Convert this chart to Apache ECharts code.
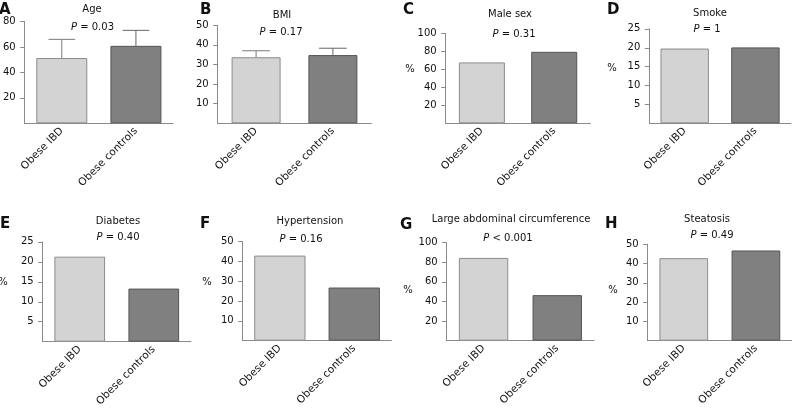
<!DOCTYPE html>
<html><head><meta charset="utf-8">
<script src="https://cdn.jsdelivr.net/npm/echarts@6/dist/echarts.min.js"></script>
<style>html,body{margin:0;padding:0;background:#fff}#c{width:792px;height:410px}</style>
</head><body><div id="c"></div>
<script>
// ---- data ----
const categories = ['Obese IBD', 'Obese controls'];
const panelLetters = ['A', 'B', 'C', 'D', 'E', 'F', 'G', 'H'];
const panelTitles = ['Age', 'BMI', 'Male sex', 'Smoke', 'Diabetes', 'Hypertension', 'Large abdominal circumference', 'Steatosis'];
const pValues = ['= 0.03', '= 0.17', '= 0.31', '= 1', '= 0.40', '= 0.16', '< 0.001', '= 0.49'];
const ageMean = [51.4, 61.0];
const ageSD = [14.7, 12.2];
const bmiMean = [33.7, 34.8];
const bmiSD = [3.3, 3.5];
const maleSex = [67.8, 79.6];
const smoke = [19.8, 20.1];
const diabetes = [21.3, 13.3];
const hypertension = [42.9, 26.8];
const largeAbdominal = [84.3, 46.4];
const steatosis = [42.8, 46.8];
const yMax = [80, 50, 100, 25, 25, 50, 100, 50];
const yInterval = [20, 10, 20, 5, 5, 10, 20, 10];
const percentAxis = [false, false, true, true, true, true, true, true];

const panelValues = [ageMean, bmiMean, maleSex, smoke, diabetes, hypertension, largeAbdominal, steatosis];
const panelSD = [ageSD, bmiSD, null, null, null, null, null, null];

// ---- layout (pixels) ----
const gridLeft = [21.7, 217.7, 445.7, 649.3, 42.7, 242.7, 446.7, 647.7];
const gridTop = [21.7, 25.3, 33.5, 28.9, 241.9, 241.5, 242.5, 244.3];
const gridWidth = [151.3, 153.6, 144.7, 141.5, 148.1, 148.7, 147.4, 150.1];
const gridHeight = [101.6, 98, 89.8, 94.4, 99.8, 99.2, 98.2, 96.4];
const barWidthPx = [51, 49, 46, 48.4, 50.7, 51.3, 49.4, 48.7];
const letterPos = [[-1, 10], [200, 10], [403, 10], [607, 10], [0, 224], [200, 224], [400, 225], [605, 224]];
const titlePos = [[92, 9.5], [282, 15], [510, 14.7], [710, 13.8], [118, 221], [310, 221], [511, 219.5], [707, 219]];
const pPos = [[92.5, 27.8], [281, 32], [514, 34], [707, 29], [118, 237.5], [301, 239], [508, 238.3], [712, 235.8]];
const pctPos = [null, null, [410, 69], [612, 68], [3, 282], [207, 282], [408, 290], [613, 290]];

const FONT = 'DejaVu Sans';
const TXT = '#111';
const AX = '#8a8a8a';
const lightFill = '#d3d3d3', lightBorder = '#8c8c8c';
const darkFill = '#808080', darkBorder = '#555555';

const grids = [], xAxes = [], yAxes = [], series = [], graphics = [];
for (let i = 0; i < 8; i++) {
  grids.push({ left: gridLeft[i], top: gridTop[i], width: gridWidth[i], height: gridHeight[i], containLabel: false });
  xAxes.push({
    type: 'category', gridIndex: i, data: categories,
    axisLine: { lineStyle: { color: AX, width: 1 } },
    axisTick: { alignWithLabel: true, length: 4, lineStyle: { color: AX } },
    axisLabel: { rotate: 45, margin: 6, fontFamily: FONT, fontSize: 10.5, color: TXT, interval: 0 }
  });
  yAxes.push({
    type: 'value', gridIndex: i, min: 0, max: yMax[i], interval: yInterval[i],
    axisLine: { show: true, lineStyle: { color: AX, width: 1 } },
    axisTick: { show: true, length: 4.5, lineStyle: { color: AX } },
    axisLabel: { showMinLabel: false, margin: 9, fontFamily: FONT, fontSize: 10, color: TXT },
    splitLine: { show: false }
  });
  series.push({
    type: 'bar', xAxisIndex: i, yAxisIndex: i, barWidth: barWidthPx[i], silent: true,
    data: panelValues[i].map((v, k) => ({
      value: v,
      itemStyle: { color: k === 0 ? lightFill : darkFill, borderColor: k === 0 ? lightBorder : darkBorder, borderWidth: 1 }
    }))
  });
  if (panelSD[i]) {
    series.push({
      type: 'custom', xAxisIndex: i, yAxisIndex: i, silent: true, z: 5,
      dimensions: ['x', 'mean', 'sd'], encode: { x: 0, y: 1 },
      data: panelValues[i].map((v, k) => [k, v, panelSD[i][k]]),
      renderItem: function (params, api) {
        const x = api.value(0), m = api.value(1), s = api.value(2);
        const base = api.coord([x, m]);
        const top = api.coord([x, m + s]);
        const half = api.size([1, 0])[0] * 0.18;
        const col = x === 0 ? '#7a7a7a' : '#666';
        return { type: 'group', children: [
          { type: 'line', shape: { x1: base[0], y1: base[1], x2: top[0], y2: top[1] }, style: { stroke: col, lineWidth: 1 } },
          { type: 'line', shape: { x1: top[0] - half, y1: top[1], x2: top[0] + half, y2: top[1] }, style: { stroke: col, lineWidth: 1 } }
        ] };
      }
    });
  }
  graphics.push({ type: 'text', x: letterPos[i][0], y: letterPos[i][1],
    style: { text: panelLetters[i], fontFamily: FONT, fontSize: 15, fontWeight: 'bold', fill: '#111', align: 'left', verticalAlign: 'middle', textAlign: 'left', textVerticalAlign: 'middle' } });
  graphics.push({ type: 'text', x: titlePos[i][0], y: titlePos[i][1],
    style: { text: panelTitles[i], fontFamily: FONT, fontSize: 10, fill: TXT, align: 'center', verticalAlign: 'middle', textAlign: 'center', textVerticalAlign: 'middle' } });
  graphics.push({ type: 'text', x: pPos[i][0], y: pPos[i][1],
    style: { text: '{i|P} ' + pValues[i], fontFamily: FONT, fontSize: 10, fill: TXT, align: 'center', verticalAlign: 'middle', textAlign: 'center', textVerticalAlign: 'middle',
      rich: { i: { fontStyle: 'italic', fontFamily: FONT, fontSize: 10, fill: TXT, color: TXT } } } });
  if (percentAxis[i]) {
    graphics.push({ type: 'text', x: pctPos[i][0], y: pctPos[i][1],
      style: { text: '%', fontFamily: FONT, fontSize: 10, fill: TXT, align: 'center', verticalAlign: 'middle', textAlign: 'center', textVerticalAlign: 'middle' } });
  }
}

const chart = echarts.init(document.getElementById('c'), null, { renderer: 'canvas' });
chart.setOption({
  backgroundColor: '#fff',
  animation: false,
  grid: grids, xAxis: xAxes, yAxis: yAxes, series: series, graphic: graphics
});
</script></body></html>
